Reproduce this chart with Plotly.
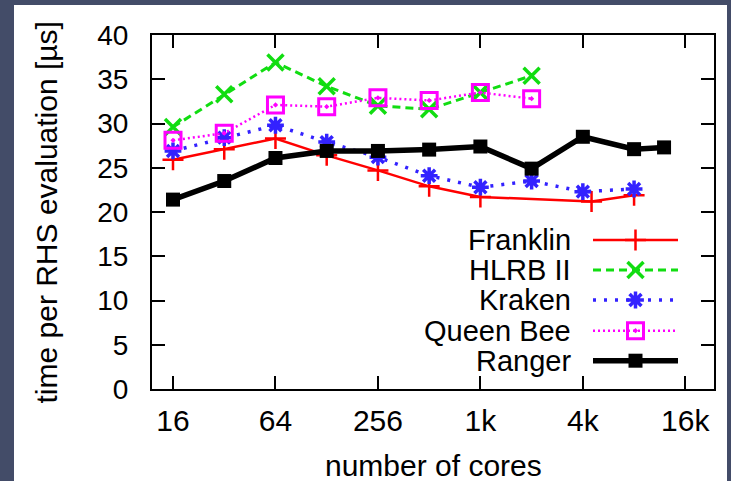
import math
import plotly.graph_objects as go

# ---- data ----
franklin_x = [16, 32, 64, 128, 256, 512, 1024, 4608, 8192]
franklin_y = [25.9, 27.1, 28.3, 26.4, 24.7, 22.9, 21.7, 21.2, 21.9]

hlrb_x = [16, 32, 64, 128, 256, 512, 1024, 2048]
hlrb_y = [29.6, 33.3, 36.9, 34.2, 32.0, 31.6, 33.5, 35.4]

kraken_x = [16, 32, 64, 128, 256, 512, 1024, 2048, 4096, 8192]
kraken_y = [26.9, 28.4, 29.8, 27.9, 26.2, 24.1, 22.8, 23.5, 22.3, 22.6]

queen_x = [16, 32, 64, 128, 256, 512, 1024, 2048]
queen_y = [28.1, 28.9, 32.1, 31.9, 32.9, 32.6, 33.5, 32.8]

ranger_x = [16, 32, 64, 128, 256, 512, 1024, 2048, 4096, 8192, 12288]
ranger_y = [21.4, 23.5, 26.1, 26.9, 26.9, 27.05, 27.4, 24.9, 28.5, 27.1, 27.3]

x_tickvals = [16, 64, 256, 1024, 4096, 16384]
x_ticktext = ["16", "64", "256", "1k", "4k", "16k"]
y_tickvals = [0, 5, 10, 15, 20, 25, 30, 35, 40]

FONT = "Liberation Sans, Arial, Helvetica, sans-serif"

series = [
    dict(name="Franklin", x=franklin_x, y=franklin_y, color="#ff0000", width=2.5,
         dash="solid", symbol="cross-thin-open", size=15, mlw=2.5),
    dict(name="HLRB II", x=hlrb_x, y=hlrb_y, color="#11dd11", width=3,
         dash="8px,5px", symbol="x-thin-open", size=16, mlw=3.5),
    dict(name="Kraken", x=kraken_x, y=kraken_y, color="#3322ff", width=3.5,
         dash="3px,8px", symbol="asterisk-open", size=14, mlw=3.5),
    dict(name="Queen Bee", x=queen_x, y=queen_y, color="#ff00ff", width=2.5,
         dash="2px,3px", symbol="square-open-dot", size=16, mlw=3),
    dict(name="Ranger", x=ranger_x, y=ranger_y, color="#000000", width=5.5,
         dash="solid", symbol="square", size=14, mlw=0),
]

fig = go.Figure()
for s in series:
    fig.add_trace(go.Scatter(
        x=s["x"], y=s["y"], mode="lines+markers", name=s["name"],
        line=dict(color=s["color"], width=s["width"], dash=s["dash"]),
        marker=dict(symbol=s["symbol"], size=s["size"], color=s["color"],
                    line=dict(color=s["color"], width=s["mlw"])),
        showlegend=False,
    ))

# ---- manual legend (text left of sample, as in reference) ----
L, R, T, B = 152, 17, 35, 92
W, H = 731, 481
pw, ph = W - L - R, H - T - B
def px(x):
    return (x - L) / pw
def py(y):
    return (H - B - y) / ph

leg_rows = [240, 270, 300, 330.7, 360.7]
for s, ry in zip(series, leg_rows):
    yy = py(ry)
    fig.add_trace(go.Scatter(
        x=[px(593), px(678)], y=[yy, yy], mode="lines",
        line=dict(color=s["color"], width=s["width"], dash=s["dash"]),
        xaxis="x2", yaxis="y2", showlegend=False, hoverinfo="skip"))
    fig.add_trace(go.Scatter(
        x=[px(635.5)], y=[yy], mode="markers",
        marker=dict(symbol=s["symbol"], size=s["size"], color=s["color"],
                    line=dict(color=s["color"], width=s["mlw"])),
        xaxis="x2", yaxis="y2", showlegend=False, hoverinfo="skip"))
    fig.add_annotation(x=px(573), y=yy, xref="paper", yref="paper",
                       text=s["name"], showarrow=False, xanchor="right",
                       yanchor="middle",
                       font=dict(family=FONT, size=29, color="black"))

axis_common = dict(showline=True, linecolor="black", linewidth=2, mirror="allticks",
                   ticks="inside", ticklen=13, tickwidth=2, tickcolor="black",
                   showgrid=False, zeroline=False)

fig.update_layout(
    width=W, height=H,
    margin=dict(l=L, r=R, t=T, b=B, pad=0),
    paper_bgcolor="#434c68",
    plot_bgcolor="white",
    xaxis=dict(type="log", range=[3.59 * math.log10(2), 14.56 * math.log10(2)],
               tickvals=x_tickvals, ticktext=x_ticktext, ticklabelstandoff=4,
               tickfont=dict(family=FONT, size=30, color="black"), **axis_common),
    yaxis=dict(range=[0, 40], tickvals=y_tickvals, ticklabelstandoff=16,
               tickfont=dict(family=FONT, size=28, color="black"), **axis_common),
    xaxis2=dict(overlaying="x", range=[0, 1], visible=False, fixedrange=True),
    yaxis2=dict(overlaying="y", range=[0, 1], visible=False, fixedrange=True),
    shapes=[dict(type="rect", xref="paper", yref="paper", layer="below",
                 x0=px(14), x1=px(727), y0=py(520), y1=py(5),
                 fillcolor="white", line=dict(width=0))],
    annotations=list(fig.layout.annotations) + [
        dict(x=0.5, y=py(465), xref="paper", yref="paper", text="number of cores",
             showarrow=False, xanchor="center", yanchor="middle",
             font=dict(family=FONT, size=30, color="black")),
        dict(x=px(46), y=py(212.5), xref="paper", yref="paper",
             text="time per RHS evaluation [µs]", textangle=-90,
             showarrow=False, xanchor="center", yanchor="middle",
             font=dict(family=FONT, size=30, color="black")),
    ],
)

fig.write_html("out.html")
